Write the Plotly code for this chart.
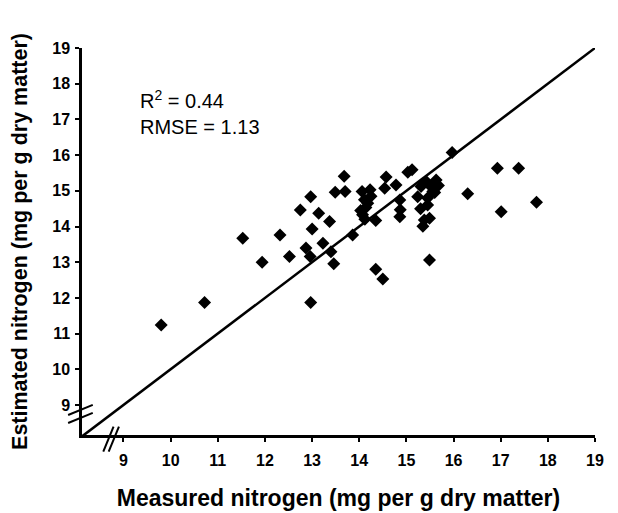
import plotly.graph_objects as go

measured = [9.80, 10.72, 11.53, 11.94, 12.32, 12.52, 12.75, 12.97, 13.14, 13.37,
            13.00, 12.87, 12.96, 13.23, 13.40, 13.46, 12.97, 13.49, 13.68, 13.70,
            13.86,
            14.06, 14.23, 14.11, 14.18, 14.14, 14.07, 14.03, 14.12, 14.25,
            14.35, 14.35, 14.50, 14.57, 14.54, 14.78, 14.86, 14.87, 14.86, 15.03, 15.12,
            15.24, 15.31, 15.42, 15.52, 15.63, 15.68, 15.60, 15.45, 15.30, 15.38,
            15.49, 15.35, 15.45, 15.56,
            15.49, 15.97, 16.30, 16.93, 17.38, 17.01, 17.76]
estimated = [11.24, 11.87, 13.67, 13.00, 13.76, 13.16, 14.46, 14.83, 14.37, 14.14,
             13.93, 13.40, 13.16, 13.53, 13.29, 12.96, 11.87, 14.96, 15.41, 14.98,
             13.76,
             14.98, 15.03, 14.75, 14.65, 14.53, 14.33, 14.45, 14.20, 14.85,
             14.17, 12.80, 12.53, 15.39, 15.07, 15.16, 14.74, 14.47, 14.27, 15.52, 15.59,
             14.83, 15.12, 15.26, 15.12, 15.30, 15.15, 14.95, 14.80, 14.50, 14.18,
             14.23, 14.01, 14.60, 14.98,
             13.06, 16.07, 14.92, 15.63, 15.63, 14.41, 14.68]

tick_vals = [9, 10, 11, 12, 13, 14, 15, 16, 17, 18, 19]
tick_text = ["<b>%d</b>" % v for v in tick_vals]
x_range = [8.12, 19.0]
y_range = [8.16, 19.0]
one_to_one = [8.12, 19.0]

stats_text = ["R<sup>2</sup> = 0.44", "RMSE = 1.13"]
x_title = "Measured nitrogen (mg per g dry matter)"
y_title = "Estimated nitrogen (mg per g dry matter)"

FONT = "Arial, Liberation Sans, sans-serif"

fig = go.Figure()
fig.add_trace(go.Scatter(x=one_to_one, y=one_to_one, mode="lines",
                         line=dict(color="black", width=2.5), showlegend=False,
                         hoverinfo="skip", cliponaxis=False))
fig.add_trace(go.Scatter(x=measured, y=estimated, mode="markers",
                         marker=dict(symbol="diamond", size=10, color="black",
                                     line=dict(width=0)),
                         showlegend=False))

axis_common = dict(tickvals=tick_vals, ticktext=tick_text, showgrid=False,
                   zeroline=False, automargin=False,
                   showline=True, linecolor="black", linewidth=2.5,
                   ticks="outside", ticklen=4, tickwidth=1.5, tickcolor="black",
                   tickfont=dict(family=FONT, size=16, color="black"),
                   mirror=False)

fig.update_xaxes(range=x_range, ticklabelstandoff=5,
                 title=dict(text="<b>" + x_title + "</b>",
                            font=dict(family=FONT, size=23, color="black"), standoff=22),
                 **axis_common)
fig.update_yaxes(range=y_range, ticklabelstandoff=2,
                 title=dict(text="<b>" + y_title + "</b>",
                            font=dict(family=FONT, size=21.5, color="black"), standoff=20),
                 **axis_common)

fig.add_annotation(x=0.109, y=0.866, xref="paper", yref="paper", text=stats_text[0],
                   showarrow=False, xanchor="left", yanchor="middle",
                   font=dict(family=FONT, size=20, color="black"))
fig.add_annotation(x=0.109, y=0.796, xref="paper", yref="paper", text=stats_text[1],
                   showarrow=False, xanchor="left", yanchor="middle",
                   font=dict(family=FONT, size=20, color="black"))

# axis break marks
brk = dict(color="black", width=2)
for y0 in (0.031, 0.0517):
    fig.add_shape(type="line", xref="paper", yref="paper",
                  x0=-0.027, y0=y0, x1=0.021, y1=y0 + 0.026, line=brk)
for x0 in (0.0415, 0.052):
    fig.add_shape(type="line", xref="paper", yref="paper",
                  x0=x0, y0=-0.043, x1=x0 + 0.02, y1=0.0215, line=brk)

fig.update_layout(width=610, height=505,
                  margin=dict(l=74, r=23, t=40, b=78),
                  paper_bgcolor="white", plot_bgcolor="white",
                  font=dict(family=FONT, color="black"))

fig.write_html("out.html")
